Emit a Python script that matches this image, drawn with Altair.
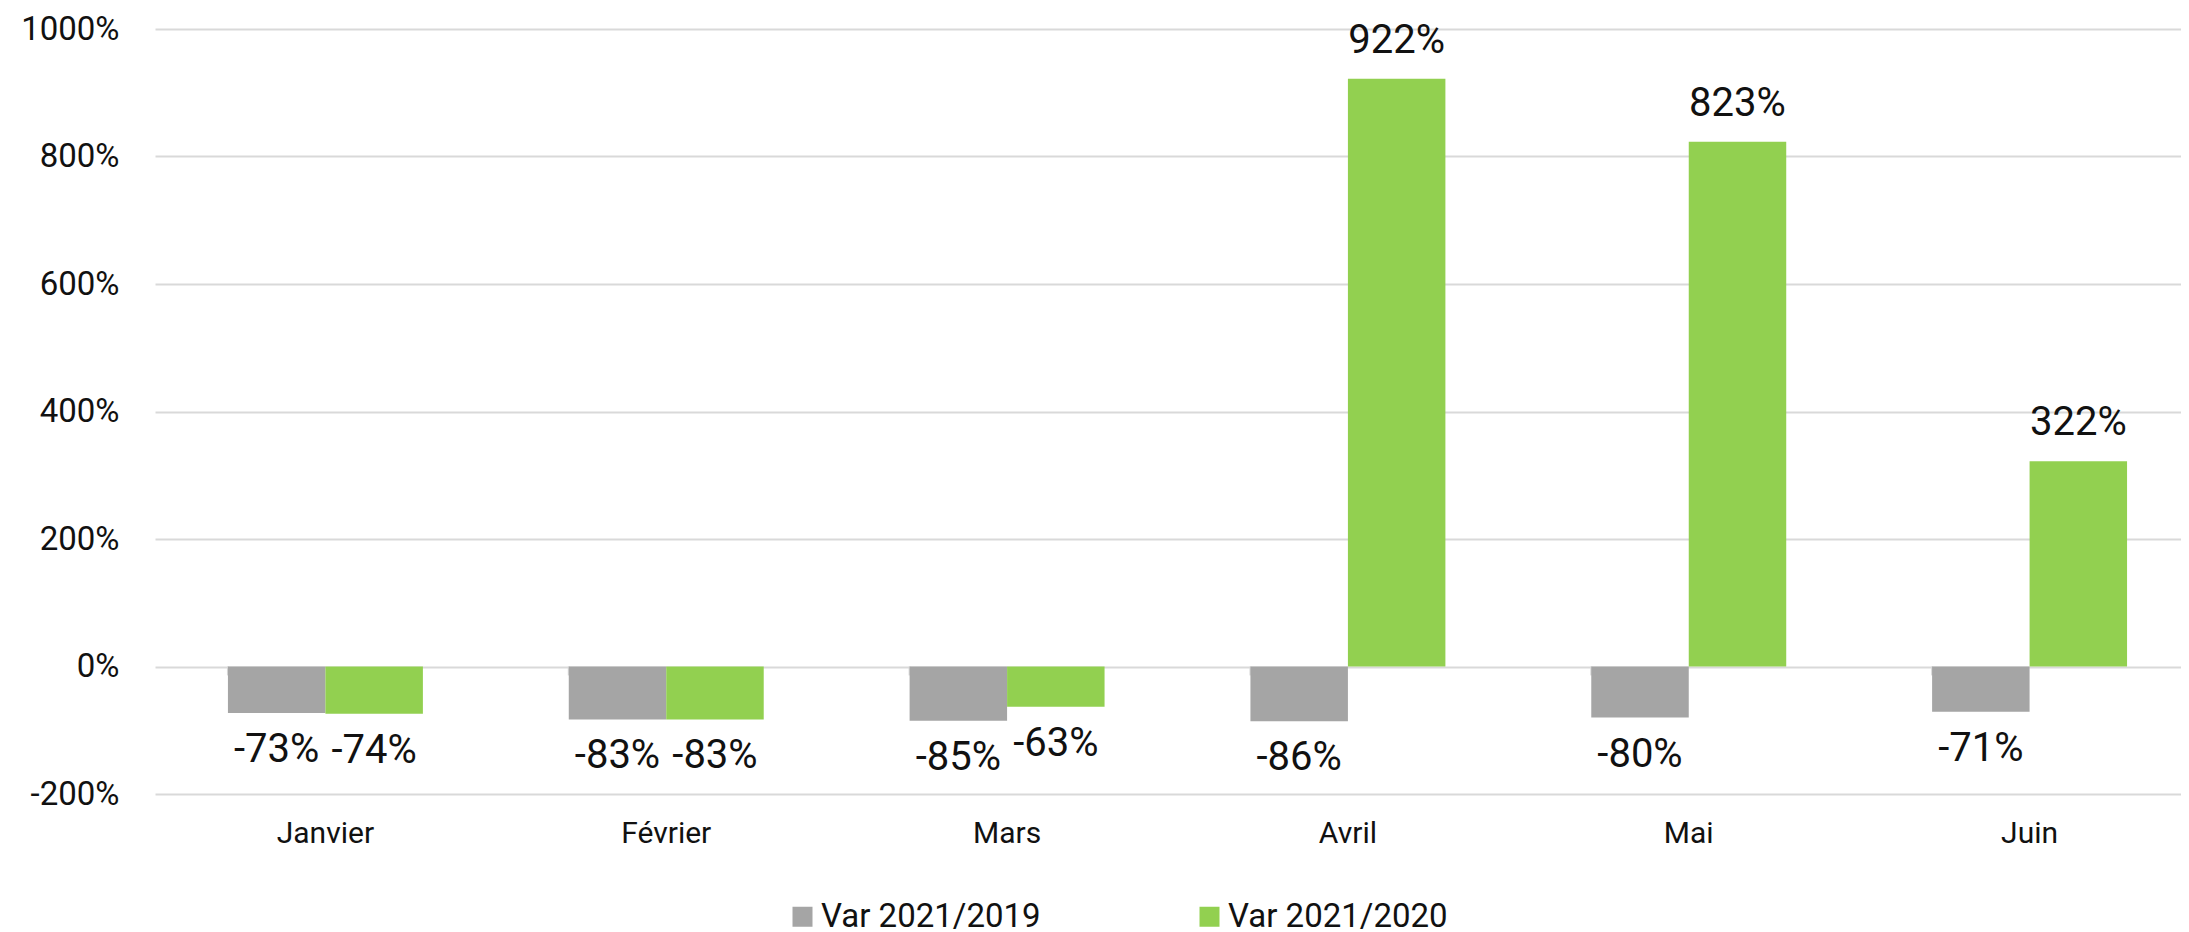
import altair as alt
import pandas as pd

months = ["Janvier", "Février", "Mars", "Avril", "Mai", "Juin"]
series = ["Var 2021/2019", "Var 2021/2020"]
var_2019 = [-73, -83, -85, -86, -80, -71]
var_2020 = [-74, -83, -63, 922, 823, 322]
colors = ["#A5A5A5", "#92D050"]
y_ticks = [-200, 0, 200, 400, 600, 800, 1000]

rows = []
for m, a, b in zip(months, var_2019, var_2020):
    rows.append({"month": m, "series": series[0], "value": a})
    rows.append({"month": m, "series": series[1], "value": b})
df = pd.DataFrame(rows)
df_m = pd.DataFrame({"month": months, "t0": [0] * len(months), "t1": [-14] * len(months)})

FONT = "Roboto"
W, H = 2026, 765

x_scale = alt.Scale(domain=months, range=[0, 2045], paddingInner=0.428, paddingOuter=0.214)
x_axis = alt.Axis(title=None, domain=False, ticks=False, tickSize=0, labelFontSize=30,
                  labelFont=FONT, labelColor="#111111", labelPadding=39,
                  labelBaseline="middle", labelAngle=0, grid=False)
y_scale = alt.Scale(domain=[-200, 1000], nice=False, zero=False)
y_axis = alt.Axis(title=None, values=y_ticks, domain=False, ticks=False, tickSize=0,
                  labelExpr="datum.value + '%'", labelFontSize=33, labelFont=FONT,
                  labelColor="#111111", labelPadding=36, grid=True,
                  gridColor="#D9D9D9", gridWidth=2)

X = alt.X("month:N", sort=months, scale=x_scale, axis=x_axis)
Y = alt.Y("value:Q", scale=y_scale, axis=y_axis)
XO = alt.XOffset("series:N", sort=series, scale=alt.Scale(domain=series, paddingInner=0, paddingOuter=0))

base = alt.Chart(df).transform_calculate(label="toString(datum.value) + '%'")

bars = base.mark_bar().encode(
    x=X, y=Y, xOffset=XO,
    color=alt.Color("series:N", sort=series,
                    scale=alt.Scale(domain=series, range=colors),
                    legend=alt.Legend(orient="none", legendX=631, legendY=871,
                                      direction="horizontal", title=None,
                                      symbolType="square", symbolSize=400,
                                      symbolStrokeWidth=0, labelFontSize=33,
                                      labelFont=FONT, labelColor="#111111",
                                      labelOffset=2, columnPadding=152,
                                      labelLimit=400)),
)

txt_pos = base.transform_filter("datum.value >= 0").mark_text(
    dy=-38, baseline="middle", align="center", fontSize=40, font=FONT, color="#111111"
).encode(x=X, y=Y, xOffset=XO, text="label:N")

txt_neg = base.transform_filter("datum.value < 0").mark_text(
    dy=37, baseline="middle", align="center", fontSize=40, font=FONT, color="#111111"
).encode(x=X, y=Y, xOffset=XO, text="label:N")

ticks = alt.Chart(df_m).mark_rule(color="#D9D9D9", strokeWidth=2).encode(
    x=alt.X("month:N", sort=months, scale=x_scale, axis=x_axis, bandPosition=0),
    y=alt.Y("t0:Q", scale=y_scale, axis=y_axis),
    y2="t1:Q",
)

chart = alt.layer(ticks, bars, txt_pos, txt_neg).properties(
    width=W, height=H,
    autosize=alt.AutoSizeParams(type="none"),
    padding={"left": 147, "top": 21, "right": 0, "bottom": 140},
).configure(background="white").configure_view(stroke=None)

chart.save("out.html", embed_options={"renderer": "svg", "actions": False})
